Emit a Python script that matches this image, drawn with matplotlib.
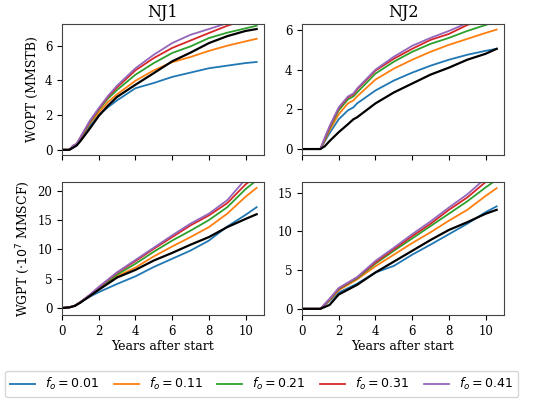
import matplotlib
matplotlib.use("Agg")
import matplotlib.pyplot as plt
import numpy as np

plt.rcParams['font.family'] = ['DejaVu Serif']

labels = ["$f_o = 0.01$", "$f_o = 0.11$", "$f_o = 0.21$", "$f_o = 0.31$", "$f_o = 0.41$"]
colors = ["#1f77b4", "#ff7f0e", "#2ca02c", "#d62728", "#9467bd"]

# NJ1 WOPT
t1 = [0, 0.4, 0.6, 0.8, 1.0, 1.5, 2.0, 2.5, 3.0, 4, 5, 6, 7, 8, 9, 10, 10.6]
nj1_wopt = [
    [0, 0, 0.2, 0.3, 0.6, 1.35, 2.0, 2.45, 2.85, 3.55, 3.85, 4.2, 4.45, 4.7, 4.85, 5.0, 5.06],
    [0, 0, 0.2, 0.32, 0.65, 1.5, 2.15, 2.75, 3.2, 3.98, 4.58, 5.05, 5.35, 5.7, 6.0, 6.25, 6.4],
    [0, 0, 0.22, 0.33, 0.68, 1.55, 2.3, 2.95, 3.45, 4.33, 5.0, 5.58, 5.96, 6.44, 6.75, 7.0, 7.15],
    [0, 0, 0.23, 0.34, 0.7, 1.6, 2.35, 3.05, 3.6, 4.58, 5.29, 5.87, 6.3, 6.73, 7.15, 7.5, 7.7],
    [0, 0, 0.24, 0.35, 0.72, 1.65, 2.4, 3.1, 3.7, 4.7, 5.48, 6.15, 6.63, 6.96, 7.3, 7.7, 7.9],
]
nj1_wopt_base = [0, 0, 0.12, 0.25, 0.5, 1.2, 1.95, 2.54, 3.05, 3.75, 4.42, 5.1, 5.6, 6.15, 6.55, 6.85, 6.96]

# NJ2 WOPT
t2 = [0, 1.0, 1.25, 1.5, 2, 2.5, 2.8, 3, 4, 5, 6, 7, 8, 9, 10, 10.6]
nj2_wopt = [
    [0, 0, 0.4, 0.8, 1.5, 1.95, 2.1, 2.3, 2.95, 3.45, 3.85, 4.2, 4.5, 4.75, 4.95, 5.05],
    [0, 0, 0.45, 0.95, 1.75, 2.3, 2.45, 2.65, 3.5, 4.05, 4.5, 4.9, 5.25, 5.55, 5.85, 6.02],
    [0, 0, 0.5, 1.05, 1.95, 2.5, 2.65, 2.85, 3.8, 4.4, 4.9, 5.3, 5.6, 5.95, 6.25, 6.45],
    [0, 0, 0.55, 1.1, 2.05, 2.6, 2.75, 3.0, 3.95, 4.55, 5.05, 5.5, 5.8, 6.25, 6.55, 6.75],
    [0, 0, 0.6, 1.15, 2.1, 2.65, 2.8, 3.05, 4.0, 4.65, 5.2, 5.6, 5.95, 6.35, 6.7, 6.9],
]
nj2_wopt_base = [0, 0, 0.15, 0.4, 0.85, 1.25, 1.5, 1.6, 2.3, 2.85, 3.3, 3.75, 4.1, 4.5, 4.8, 5.05]

# NJ1 WGPT
t3 = [0, 0.4, 0.7, 1.0, 1.5, 2, 3, 4, 5, 6, 7, 8, 9, 10, 10.6]
nj1_wgpt = [
    [0, 0.1, 0.4, 1.0, 1.9, 2.7, 4.1, 5.4, 7.0, 8.4, 9.8, 11.5, 13.9, 15.9, 17.2],
    [0, 0.1, 0.4, 1.0, 2.0, 3.2, 5.4, 6.9, 8.8, 10.5, 12.1, 13.8, 16.1, 19.0, 20.5],
    [0, 0.1, 0.4, 1.0, 2.1, 3.4, 5.7, 7.55, 9.6, 11.5, 13.2, 15.0, 17.2, 20.3, 21.8],
    [0, 0.1, 0.4, 1.0, 2.2, 3.5, 6.0, 8.0, 10.1, 12.1, 14.1, 15.8, 17.9, 21.1, 22.5],
    [0, 0.1, 0.4, 1.0, 2.2, 3.6, 6.1, 8.2, 10.3, 12.4, 14.4, 16.1, 18.4, 22.0, 23.0],
]
nj1_wgpt_base = [0, 0.1, 0.35, 0.9, 2.0, 3.1, 5.2, 6.5, 8.1, 9.4, 10.8, 12.1, 13.8, 15.2, 16.0]

# NJ2 WGPT
t4 = [0, 1.0, 1.5, 2, 3, 4, 5, 6, 7, 8, 9, 10, 10.6]
nj2_wgpt = [
    [0, 0, 1.0, 2.1, 3.25, 4.7, 5.55, 7.0, 8.3, 9.65, 11.0, 12.5, 13.25],
    [0, 0, 1.1, 2.4, 3.8, 5.5, 7.0, 8.5, 9.9, 11.4, 12.8, 14.6, 15.6],
    [0, 0, 1.2, 2.55, 3.95, 5.85, 7.5, 9.1, 10.7, 12.3, 13.9, 15.7, 16.7],
    [0, 0, 1.25, 2.6, 4.05, 6.0, 7.7, 9.4, 11.0, 12.8, 14.4, 16.4, 17.3],
    [0, 0, 1.3, 2.7, 4.1, 6.2, 7.9, 9.65, 11.3, 13.1, 14.8, 16.9, 17.8],
]
nj2_wgpt_base = [0, 0, 0.5, 1.85, 3.1, 4.7, 6.1, 7.5, 8.9, 10.2, 11.2, 12.3, 12.8]

fig = plt.figure(figsize=(5.5, 3.99), dpi=100)
W, H = 550, 399
def ax_at(x0, y0, x1, y1):
    return fig.add_axes([x0 / W, 1 - y1 / H, (x1 - x0) / W, (y1 - y0) / H])

axes = [ax_at(62, 24, 264, 155), ax_at(302, 24, 504, 155),
        ax_at(62, 182, 264, 315), ax_at(302, 182, 504, 315)]

panels = [(t1, nj1_wopt, nj1_wopt_base, (-0.3, 7.25)),
          (t2, nj2_wopt, nj2_wopt_base, (-0.3, 6.3)),
          (t3, nj1_wgpt, nj1_wgpt_base, (-1.2, 21.5)),
          (t4, nj2_wgpt, nj2_wgpt_base, (-0.8, 16.4))]

for ax, (t, series, base, yl) in zip(axes, panels):
    for s, c, lab in zip(series, colors, labels):
        ax.plot(t, s, color=c, lw=1.3, label=lab)
    ax.plot(t, base, color='black', lw=1.6)
    ax.set_xlim(0, 11)
    ax.set_ylim(*yl)
    ax.set_xticks([0, 2, 4, 6, 8, 10])
    ax.tick_params(labelsize=8.5, length=3.5)
    for sp in ax.spines.values():
        sp.set_color('#444444')

axes[0].set_yticks([0, 2, 4, 6])
axes[1].set_yticks([0, 2, 4, 6])
axes[2].set_yticks([0, 5, 10, 15, 20])
axes[3].set_yticks([0, 5, 10, 15])
axes[0].tick_params(labelbottom=False)
axes[1].tick_params(labelbottom=False)

axes[0].set_title("NJ1", fontsize=11.5, pad=5)
axes[1].set_title("NJ2", fontsize=11.5, pad=5)
axes[0].set_ylabel("WOPT (MMSTB)", fontsize=9)
axes[2].set_ylabel(r"WGPT ($\cdot 10^7$ MMSCF)", fontsize=9)
axes[2].set_xlabel("Years after start", fontsize=9, labelpad=2)
axes[3].set_xlabel("Years after start", fontsize=9, labelpad=2)

handles, labs = axes[0].get_legend_handles_labels()
fig.legend(handles, labs, loc='lower left', bbox_to_anchor=(5 / W, 1 - 397 / H, 513 / W, 24 / H),
           mode='expand', ncol=5, fontsize=9, frameon=True, borderaxespad=0.0,
           handlelength=2.0, columnspacing=1.0)

fig.savefig("out.png", dpi=100)
